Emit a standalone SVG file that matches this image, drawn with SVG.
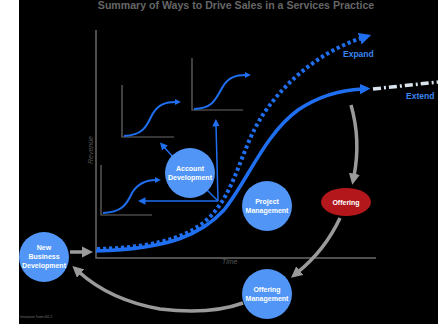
<svg xmlns="http://www.w3.org/2000/svg" width="438" height="324" viewBox="0 0 438 324">
  <style>
    .bg { fill: #000; }
    .axis { stroke: #6a6a6a; stroke-width: 1.5; fill: none; }
    .mini { stroke: #6a6a6a; stroke-width: 1.2; fill: none; }
    .miniCurve { stroke: #1f6ff0; stroke-width: 2; fill: none; }
    .thin { stroke: #1f6ff0; stroke-width: 1.5; fill: none; }
    .cycle { stroke: #9a9a9a; stroke-width: 3.5; fill: none; }
    .node { fill: #5196f6; }
    .label { font-family: "Liberation Sans", Arial, sans-serif; font-weight: bold; font-size: 7px; fill: #fff; text-anchor: middle; }
    .axisLabel { font-family: "Liberation Sans", Arial, sans-serif; font-style: italic; font-size: 7px; fill: #555; }
    .curveLabel { font-family: "Liberation Sans", Arial, sans-serif; font-weight: bold; font-size: 8.5px; fill: #3a86f0; }
  </style>
  <defs>
    <marker id="blueHead" viewBox="0 0 10 10" refX="2" refY="5" markerWidth="3" markerHeight="3" orient="auto">
      <path d="M0,0 L10,5 L0,10 z" fill="#1f6ff0"/>
    </marker>
    <marker id="thinHead" viewBox="0 0 10 10" refX="2" refY="5" markerWidth="5" markerHeight="5" orient="auto">
      <path d="M0,0 L10,5 L0,10 z" fill="#1f6ff0"/>
    </marker>
    <marker id="grayHead" viewBox="0 0 10 10" refX="2" refY="5" markerWidth="3.2" markerHeight="3.2" orient="auto">
      <path d="M0,0 L10,5 L0,10 z" fill="#9a9a9a"/>
    </marker>
  </defs>

  <rect x="0" y="0" width="438" height="324" fill="#fff"/>
  <rect class="bg" x="19" y="0" width="419" height="324"/>

  <text x="236" y="9" font-family="Liberation Sans, Arial, sans-serif" font-weight="bold" font-size="10.6" fill="#666" text-anchor="middle">Summary of Ways to Drive Sales in a Services Practice</text>

  <!-- main axes -->
  <g id="axes">
    <path class="axis" d="M96,30 L96,258 L376,258"/>
    <text class="axisLabel" transform="translate(93,150) rotate(-90)" text-anchor="middle">Revenue</text>
    <text class="axisLabel" x="222" y="264">Time</text>
  </g>

  <!-- small revenue charts -->
  <g id="chart-top-left">
    <path class="mini" d="M122,85 L122,137 L174,137"/>
    <path class="miniCurve" d="M124,136 C142,135 146,128 152,115 C158,104 166,102 176,102" marker-end="url(#blueHead)"/>
  </g>
  <g id="chart-top-right">
    <path class="mini" d="M192,58 L192,110 L243,110"/>
    <path class="miniCurve" d="M194,109 C212,108 215,101 222,88 C228,77 236,75 246,75" marker-end="url(#blueHead)"/>
  </g>
  <g id="chart-bottom-left">
    <path class="mini" d="M101,165 L101,215 L152,215"/>
    <path class="miniCurve" d="M103,213 C121,212 126,206 132,193 C138,183 146,180 156,180" marker-end="url(#blueHead)"/>
  </g>

  <!-- growth curves -->
  <g id="curves">
    <path d="M97,249 C165,247 197,234 216,210 C236,185 242,150 259,121 C280,86 318,52 362,38" stroke="#1f6ff0" stroke-width="4" stroke-dasharray="3.2 2.8" fill="none" marker-end="url(#blueHead)"/>
    <path d="M96,251 C170,249 202,234 224,210 C248,180 264,135 298,110 C319,96 340,90 362,89" stroke="#1f6ff0" stroke-width="3.5" fill="none" marker-end="url(#blueHead)"/>
    <path d="M373,89 L438,82" stroke="#d9e4ef" stroke-width="3.5" stroke-dasharray="8 3 2 3" fill="none"/>
    <text class="curveLabel" x="343" y="57">Expand</text>
    <text class="curveLabel" x="406" y="99">Extend</text>
  </g>

  <!-- account development links and the sales cycle -->
  <g id="connectors">
    <path class="thin" d="M218,201 L190,173"/>
    <path class="thin" d="M218,201 L216,125" marker-end="url(#thinHead)"/>
    <path class="thin" d="M218,201 L144,201" marker-end="url(#thinHead)"/>
    <path class="thin" d="M173,157 L164,147" marker-end="url(#thinHead)"/>

    <path class="cycle" d="M70,252 L84,252" marker-end="url(#grayHead)"/>
    <path class="cycle" d="M351,105 Q361,140 354,176" marker-end="url(#grayHead)"/>
    <path class="cycle" d="M340,218 Q325,250 298,272" marker-end="url(#grayHead)"/>
    <path class="cycle" d="M243,303 Q210,315 160,309 Q110,300 79,272" marker-end="url(#grayHead)"/>
  </g>

  <g id="account-development">
    <circle class="node" cx="190" cy="173" r="25"/>
    <text class="label" x="190" y="171">Account</text>
    <text class="label" x="190" y="180">Development</text>
  </g>
  <g id="project-management">
    <circle class="node" cx="267" cy="206" r="25"/>
    <text class="label" x="267" y="204">Project</text>
    <text class="label" x="267" y="213">Management</text>
  </g>
  <g id="offering">
    <ellipse cx="346" cy="202" rx="25" ry="14" fill="#b3171c"/>
    <text class="label" x="346" y="204.5">Offering</text>
  </g>
  <g id="offering-management">
    <circle class="node" cx="267" cy="294" r="25"/>
    <text class="label" x="267" y="292">Offering</text>
    <text class="label" x="267" y="301">Management</text>
  </g>
  <g id="new-business-development">
    <circle class="node" cx="44" cy="257" r="25"/>
    <text class="label" x="44" y="250">New</text>
    <text class="label" x="44" y="259">Business</text>
    <text class="label" x="44" y="268">Development</text>
  </g>

  <text x="20" y="318" font-family="Liberation Sans, Arial, sans-serif" font-size="3.2" fill="#777">Innovation Team 001.2</text>
</svg>
